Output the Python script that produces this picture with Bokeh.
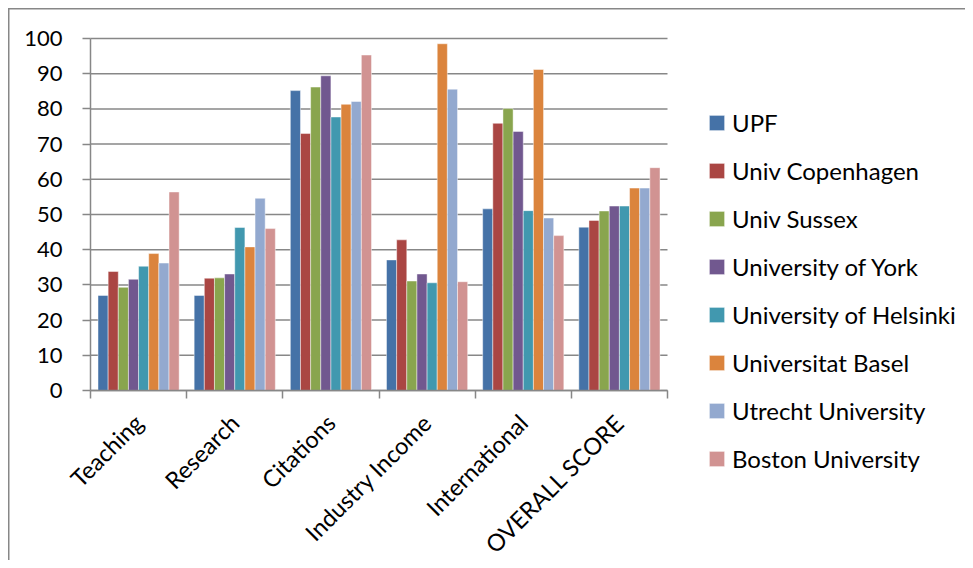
import numpy as np
from bokeh.plotting import figure
from bokeh.models import ColumnDataSource, FixedTicker, Legend, LegendItem, Range1d
from bokeh.embed import file_html
from bokeh.resources import INLINE

categories = ["Teaching", "Research", "Citations", "Industry Income", "International", "OVERALL SCORE"]
series = ["UPF", "Univ Copenhagen", "Univ Sussex", "University of York",
          "University of Helsinki", "Universitat Basel", "Utrecht University", "Boston University"]
upf        = [27.0, 27.0, 85.2, 37.1, 51.6, 46.4]
copenhagen = [33.8, 31.9, 73.0, 42.8, 75.9, 48.3]
sussex     = [29.3, 32.0, 86.2, 31.1, 80.1, 51.0]
york       = [31.6, 33.1, 89.4, 33.1, 73.6, 52.4]
helsinki   = [35.3, 46.3, 77.7, 30.6, 51.1, 52.4]
basel      = [38.9, 40.8, 81.3, 98.5, 91.2, 57.5]
utrecht    = [36.2, 54.6, 82.1, 85.6, 49.0, 57.5]
boston     = [56.4, 46.0, 95.3, 30.9, 44.0, 63.3]
values = [upf, copenhagen, sussex, york, helsinki, basel, utrecht, boston]
colors = ["#4572A7", "#AA4643", "#89A54E", "#71588F", "#4198AF", "#DB843D", "#93A9CF", "#D19392"]
y_ticks = [0, 10, 20, 30, 40, 50, 60, 70, 80, 90, 100]

FONT = "Lato"
GRAY = "#878787"

# page geometry (pixels): plot area from x=90..667, y=38 (100) .. 390 (0)
W, H = 965, 560
PX_L, PX_R, PX_T, PX_B = 90, 667, 38, 390
ncat = len(categories)
ymax = y_ticks[-1]
sx = (PX_R - PX_L) / ncat
sy = (PX_B - PX_T) / ymax
x_range = Range1d(-PX_L / sx, (W - PX_L) / sx)
y_range = Range1d(-(H - PX_B) / sy, ymax + PX_T / sy)

p = figure(width=W, height=H, output_backend="svg", toolbar_location=None,
           x_range=x_range, y_range=y_range,
           min_border_left=0, min_border_right=0, min_border_top=0, min_border_bottom=0)
p.outline_line_color = None
p.border_fill_alpha = 0
p.background_fill_alpha = 0
p.styles = {"box-shadow": "inset 8px 8px 0 0 white, inset 9.5px 9.5px 0 0 #878787"}

# horizontal gridlines across the category area only
p.segment(x0=0, x1=ncat, y0=y_ticks, y1=y_ticks, line_color=GRAY, line_width=1.5, level="underlay")

bw = 0.1055
centers = np.arange(ncat) + 0.5
renderers = []
for j, (vals, col) in enumerate(zip(values, colors)):
    src = ColumnDataSource(dict(x=centers + (j - 3.5) * bw, top=vals))
    r = p.vbar(x="x", top="top", width=bw, bottom=0, source=src,
               fill_color=col, line_color="white", line_alpha=0.45, line_width=1)
    renderers.append(r)

p.grid.visible = False

p.xaxis.fixed_location = 0
p.xaxis.bounds = (0, ncat)
p.xaxis.ticker = FixedTicker(ticks=list(centers), minor_ticks=list(range(ncat + 1)))
p.xaxis.major_label_overrides = {float(c): cat for c, cat in zip(centers, categories)}
p.xaxis.major_label_orientation = np.pi / 4
p.xaxis.major_tick_in = 0
p.xaxis.major_tick_out = 0
p.xaxis.minor_tick_in = 0
p.xaxis.minor_tick_out = 8
p.xaxis.minor_tick_line_color = GRAY
p.xaxis.minor_tick_line_width = 1.5
p.xaxis.axis_line_color = GRAY
p.xaxis.axis_line_width = 1.5
p.xaxis.major_label_text_font = FONT
p.xaxis.major_label_text_font_size = "23.5px"
p.xaxis.major_label_text_color = "black"
p.xaxis.major_label_standoff = 20

p.yaxis.fixed_location = 0
p.yaxis.bounds = (0, ymax)
p.yaxis.ticker = FixedTicker(ticks=y_ticks, minor_ticks=[])
p.yaxis.major_tick_in = 0
p.yaxis.major_tick_out = 8
p.yaxis.major_tick_line_color = GRAY
p.yaxis.major_tick_line_width = 1.5
p.yaxis.axis_line_color = GRAY
p.yaxis.axis_line_width = 1.5
p.yaxis.major_label_text_font = FONT
p.yaxis.major_label_text_font_size = "22px"
p.yaxis.major_label_text_color = "black"
p.yaxis.major_label_standoff = 20

legend = Legend(items=[LegendItem(label=n, renderers=[r]) for n, r in zip(series, renderers)],
                location=(707, 87), orientation="vertical",
                glyph_width=19, glyph_height=19, label_height=30, spacing=18,
                label_standoff=6, padding=0, margin=0,
                border_line_color=None, background_fill_alpha=0,
                label_text_font=FONT, label_text_font_size="24px", label_text_color="black")
p.add_layout(legend, "center")

open("out.html", "w").write(file_html(p, INLINE))
